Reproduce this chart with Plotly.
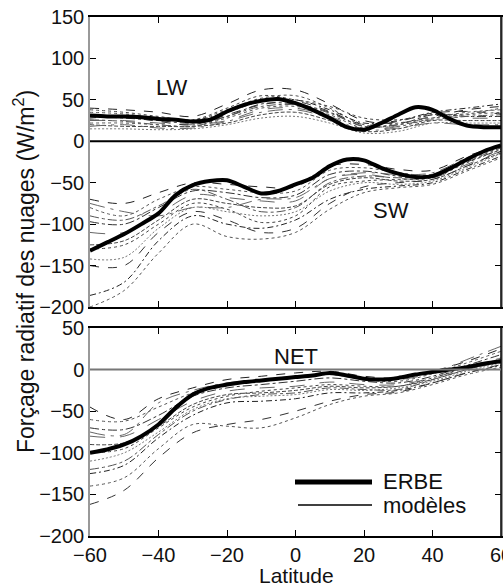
import plotly.graph_objects as go

# ---------------- data ----------------
lat_erbe = [-60, -55, -50, -45, -40, -35, -30, -25, -20, -15, -10, -5, 0,
            5, 10, 15, 20, 25, 30, 35, 40, 45, 50, 55, 60]
erbe_lw = [31, 30, 30, 29, 27, 26, 24, 26, 36, 44, 49, 51, 46,
           38, 28, 17, 14, 22, 32, 41, 38, 27, 19, 17, 17]
erbe_sw = [-132, -122, -112, -100, -87, -65, -53, -48, -47, -55, -63, -60, -52,
           -44, -30, -22, -23, -32, -39, -43, -42, -33, -22, -12, -5]
erbe_net = [-100, -96, -90, -80, -66, -46, -30, -22, -18, -15, -13, -11, -9,
            -7, -4, -7, -11, -12, -10, -6, -3, 0, 3, 7, 10]

lat_mod = [-60, -50, -40, -30, -20, -10, 0, 10, 20, 30, 40, 50, 60]
models_lw = [
    [40, 38, 35, 30, 45, 62, 62, 45, 25, 22, 30, 38, 42],
    [35, 33, 28, 25, 38, 52, 55, 40, 20, 18, 28, 35, 38],
    [30, 28, 25, 22, 30, 45, 45, 35, 18, 20, 32, 30, 30],
    [25, 25, 22, 20, 25, 38, 40, 30, 15, 18, 30, 28, 28],
    [20, 18, 18, 18, 22, 32, 35, 25, 12, 15, 25, 25, 25],
    [15, 15, 14, 15, 20, 28, 30, 22, 10, 12, 22, 22, 22],
    [28, 30, 27, 25, 35, 48, 50, 38, 22, 25, 35, 40, 45],
    [22, 22, 20, 18, 28, 40, 42, 32, 16, 22, 28, 32, 35],
    [32, 30, 24, 20, 32, 44, 48, 36, 20, 24, 34, 36, 33],
    [18, 20, 16, 16, 24, 35, 38, 28, 14, 16, 22, 20, 20],
    [38, 35, 30, 26, 40, 55, 50, 42, 28, 26, 32, 33, 40],
    [26, 24, 20, 18, 30, 42, 44, 34, 18, 20, 26, 30, 32],
]
models_sw = [
    [-70, -75, -62, -50, -52, -55, -55, -30, -28, -34, -35, -18, -5],
    [-80, -90, -70, -55, -58, -62, -60, -35, -32, -38, -40, -22, -8],
    [-97, -100, -80, -60, -62, -68, -65, -40, -36, -42, -42, -25, -10],
    [-110, -110, -88, -65, -68, -72, -72, -45, -40, -45, -44, -28, -12],
    [-125, -120, -95, -70, -75, -80, -78, -52, -44, -48, -46, -30, -14],
    [-142, -140, -105, -80, -85, -90, -85, -60, -50, -52, -48, -32, -15],
    [-186, -170, -120, -90, -100, -105, -95, -70, -58, -54, -50, -34, -18],
    [-200, -180, -135, -100, -115, -118, -110, -82, -62, -56, -52, -36, -20],
    [-150, -150, -110, -85, -95, -110, -105, -75, -55, -50, -46, -30, -12],
    [-75, -85, -90, -80, -80, -70, -68, -45, -38, -40, -38, -20, -6],
    [-130, -125, -100, -75, -82, -98, -90, -55, -48, -46, -44, -26, -10],
    [-90, -95, -78, -58, -70, -85, -80, -50, -42, -44, -40, -24, -8],
]
models_net = [
    [-45, -60, -35, -22, -12, -8, -4, -2, -8, -10, -2, 10, 25],
    [-60, -62, -45, -28, -18, -14, -10, -6, -12, -14, -5, 8, 22],
    [-70, -72, -55, -32, -22, -18, -14, -10, -14, -16, -8, 5, 18],
    [-80, -80, -60, -38, -26, -22, -20, -15, -18, -18, -10, 2, 14],
    [-90, -88, -68, -42, -30, -28, -25, -20, -22, -20, -12, 0, 10],
    [-110, -100, -75, -48, -35, -32, -30, -24, -25, -22, -14, -2, 8],
    [-125, -115, -82, -55, -40, -38, -35, -28, -28, -25, -16, -4, 5],
    [-140, -130, -95, -66, -68, -70, -58, -42, -32, -28, -18, -6, 3],
    [-162, -145, -106, -76, -66, -60, -50, -38, -30, -27, -16, -4, 6],
    [-75, -78, -40, -25, -16, -12, -8, -5, -10, -12, -4, 12, 28],
    [-100, -95, -70, -45, -32, -26, -22, -18, -20, -20, -10, 3, 12],
    [-120, -110, -78, -50, -36, -30, -28, -22, -24, -24, -12, 0, 9],
]

x_ticks = [-60, -40, -20, 0, 20, 40, 60]
y_ticks_top = [150, 100, 50, 0, -50, -100, -150, -200]
y_ticks_bot = [50, 0, -50, -100, -150, -200]

# ---------------- figure ----------------
W, H = 503, 584
ML, MR, MT, MB = 90, 2, 17, 48
PW, PH = W - ML - MR, H - MT - MB


def px(x):
    return (x - ML) / PW


def py(y):
    return (H - MB - y) / PH


dashes = ["dash", "dot", "dashdot", "longdash", "4px,2px", "2px,2px",
          "6px,3px,2px,3px", "dot", "dash", "longdashdot", "3px,3px", "dashdot"]
greys = ["#222", "#555", "#333", "#666", "#444", "#777",
         "#222", "#555", "#333", "#666", "#444", "#555"]

fig = go.Figure()

for set_, ax in ((models_lw, "y"), (models_sw, "y"), (models_net, "y2")):
    for i, vals in enumerate(set_):
        fig.add_trace(go.Scatter(
            x=lat_mod, y=vals, mode="lines", xaxis="x" if ax == "y" else "x2",
            yaxis=ax, line=dict(color=greys[i], width=1, dash=dashes[i],
                                shape="spline", smoothing=1.0),
            showlegend=False, hoverinfo="skip"))

for vals, ax in ((erbe_lw, "y"), (erbe_sw, "y"), (erbe_net, "y2")):
    fig.add_trace(go.Scatter(
        x=lat_erbe, y=vals, mode="lines", xaxis="x" if ax == "y" else "x2",
        yaxis=ax, line=dict(color="black", width=4, shape="spline", smoothing=0.8),
        showlegend=False, hoverinfo="skip"))

tickfont = dict(family="Liberation Sans, Arial, sans-serif", size=20, color="#111")
common_x = dict(range=[-60, 60], tickvals=x_ticks, ticks="inside", ticklen=6,
                tickcolor="black", showline=True, linecolor="black", linewidth=1.5,
                mirror="allticks", showgrid=False, zeroline=False, tickfont=tickfont,
                ticklabeloverflow="allow", automargin=False)
common_y = dict(ticks="inside", ticklen=6, tickcolor="black", showline=True,
                linecolor="#999", linewidth=1.5, mirror="allticks", showgrid=False,
                zeroline=False, tickfont=tickfont, automargin=False)

top_dom = [py(307), 1]
bot_dom = [0, py(328)]

fig.update_layout(
    width=W, height=H, margin=dict(l=ML, r=MR, t=MT, b=MB, autoexpand=False),
    paper_bgcolor="white", plot_bgcolor="white", showlegend=False,
    font=dict(family="Liberation Sans, Arial, sans-serif", color="#111"),
    xaxis=dict(common_x, anchor="y", showticklabels=False),
    yaxis=dict(common_y, domain=top_dom, range=[-200, 150], tickvals=y_ticks_top,
               anchor="x"),
    xaxis2=dict(common_x, anchor="y2"),
    yaxis2=dict(common_y, domain=bot_dom, range=[-200, 50], tickvals=y_ticks_bot,
                anchor="x2"),
)

shapes = [
    # right frame edges (black)
    dict(type="line", xref="x domain", yref="y domain", x0=1, x1=1, y0=0, y1=1,
         line=dict(color="black", width=1.5)),
    dict(type="line", xref="x2 domain", yref="y2 domain", x0=1, x1=1, y0=0, y1=1,
         line=dict(color="black", width=1.5)),
    # zero lines
    dict(type="line", xref="x domain", yref="y", x0=0, x1=1, y0=0, y1=0,
         line=dict(color="black", width=2)),
    dict(type="line", xref="x2 domain", yref="y2", x0=0, x1=1, y0=0, y1=0,
         line=dict(color="#777", width=2)),
    # legend samples
    dict(type="line", xref="paper", yref="paper", x0=px(295), x1=px(372),
         y0=py(482), y1=py(482), line=dict(color="black", width=5)),
    dict(type="line", xref="paper", yref="paper", x0=px(298), x1=px(372),
         y0=py(505), y1=py(505), line=dict(color="black", width=1.5)),
]
fig.update_layout(shapes=shapes)

ann_font = dict(family="Liberation Sans, Arial, sans-serif", size=22, color="#111")
annotations = [
    dict(text="LW", x=-36, y=65, xref="x", yref="y", showarrow=False, font=ann_font),
    dict(text="SW", x=28, y=-84, xref="x", yref="y", showarrow=False, font=ann_font),
    dict(text="NET", x=0, y=16, xref="x2", yref="y2", showarrow=False, font=ann_font),
    dict(text="ERBE", x=px(381), y=py(482), xref="paper", yref="paper",
         xanchor="left", yanchor="middle", showarrow=False, font=ann_font),
    dict(text="modèles", x=px(381), y=py(505), xref="paper", yref="paper",
         xanchor="left", yanchor="middle", showarrow=False, font=ann_font),
    dict(text="Latitude", x=px(296), y=py(575), xref="paper", yref="paper",
         xanchor="center", yanchor="middle", showarrow=False,
         font=dict(ann_font, size=21)),
    dict(text="Forçage radiatif des nuages (W/m<sup>2</sup>)", x=px(24), y=py(272),
         xref="paper", yref="paper", textangle=-90, showarrow=False,
         xanchor="center", yanchor="middle", font=dict(ann_font, size=23)),
]
fig.update_layout(annotations=annotations)

fig.write_html("out.html", config={"displayModeBar": False},
               post_script="document.body.style.margin='0px';"
                           "document.body.style.overflow='hidden';")
